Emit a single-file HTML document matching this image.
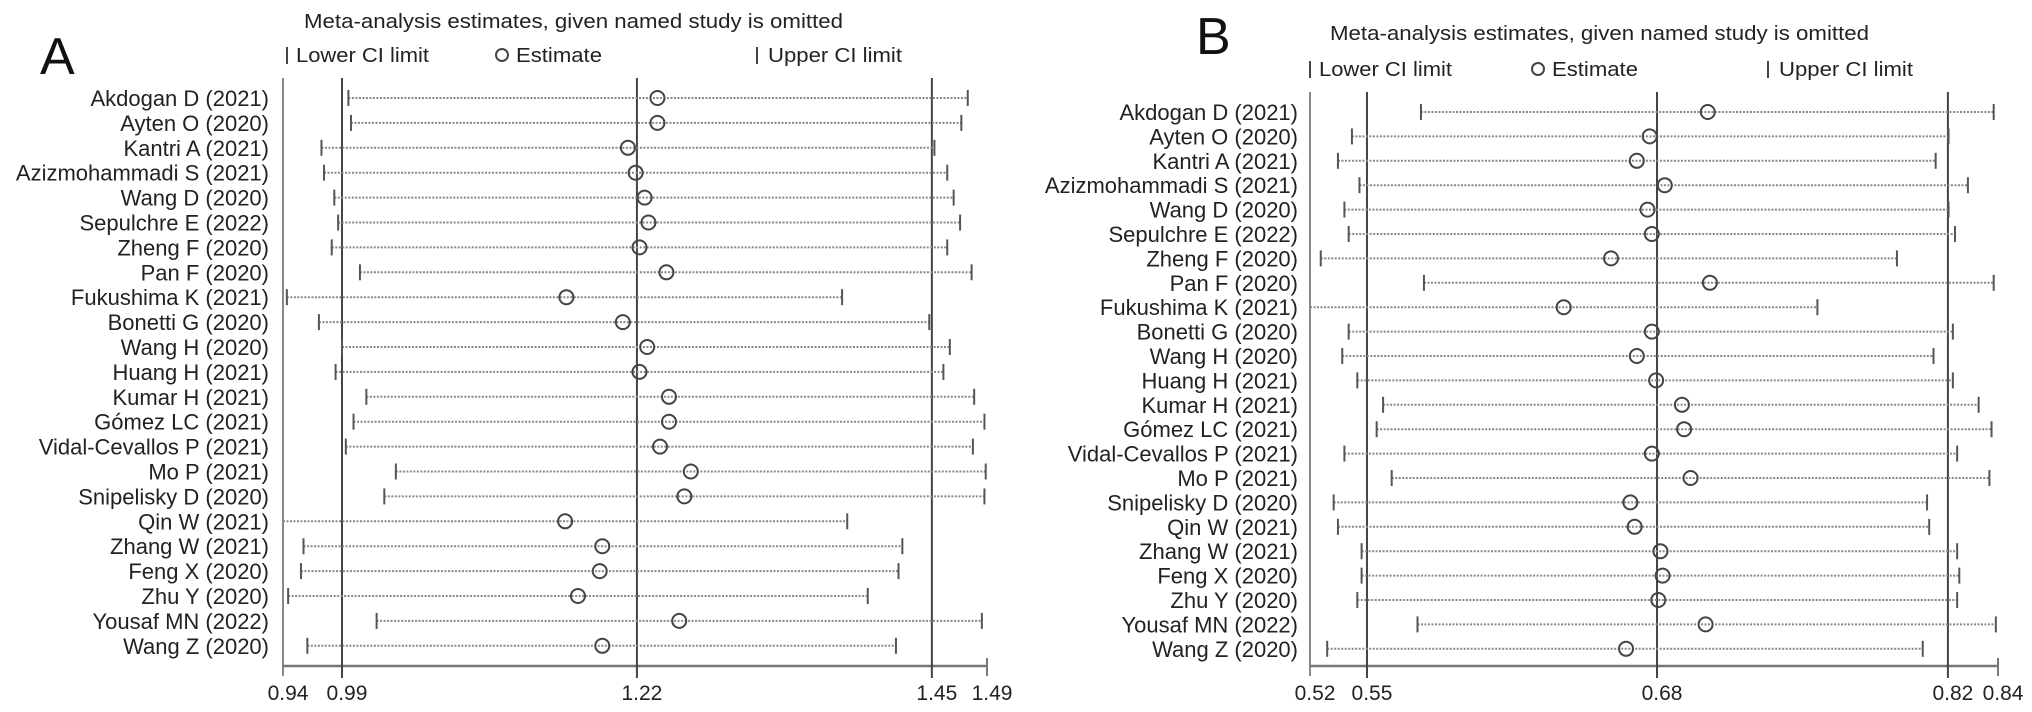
<!DOCTYPE html>
<html><head><meta charset="utf-8"><style>
html,body{margin:0;padding:0;background:#fff;}
svg{display:block;font-family:"Liberation Sans",Arial,sans-serif;}
</style></head><body>
<svg id="chart" width="2032" height="712" viewBox="0 0 2032 712" xmlns="http://www.w3.org/2000/svg">
<rect width="2032" height="712" fill="#fff"/>
</svg>
<script>
const studies = ["Akdogan D (2021)","Ayten O (2020)","Kantri A (2021)","Azizmohammadi S (2021)","Wang D (2020)","Sepulchre E (2022)","Zheng F (2020)","Pan F (2020)","Fukushima K (2021)","Bonetti G (2020)","Wang H (2020)","Huang H (2021)","Kumar H (2021)","Gómez LC (2021)","Vidal-Cevallos P (2021)","Mo P (2021)","Snipelisky D (2020)","Qin W (2021)","Zhang W (2021)","Feng X (2020)","Zhu Y (2020)","Yousaf MN (2022)","Wang Z (2020)"];

const lowerA = [0.995,0.997,0.974,0.976,0.984,0.987,0.982,1.004,0.947,0.972,0.990,0.985,1.009,0.999,0.993,1.032,1.023,0.930,0.960,0.958,0.948,1.017,0.963];
const estA   = [1.236,1.236,1.213,1.219,1.226,1.229,1.222,1.243,1.165,1.209,1.228,1.222,1.245,1.245,1.238,1.262,1.257,1.164,1.193,1.191,1.174,1.253,1.193];
const upperA = [1.478,1.473,1.452,1.462,1.467,1.472,1.462,1.481,1.380,1.448,1.464,1.459,1.483,1.491,1.482,1.492,1.491,1.384,1.427,1.424,1.400,1.489,1.422];
const refA = [0.99,1.22,1.45];
const tickValsA = [0.944,0.99,1.22,1.45,1.493];
const tickLabelsA = ["0.94","0.99","1.22","1.45","1.49"];

const lowerB = [0.5716,0.5395,0.533,0.543,0.536,0.538,0.525,0.573,0.515,0.538,0.535,0.542,0.554,0.551,0.536,0.558,0.531,0.533,0.544,0.544,0.542,0.570,0.528];
const estB   = [0.705,0.678,0.672,0.685,0.677,0.679,0.660,0.706,0.638,0.679,0.672,0.681,0.693,0.694,0.679,0.697,0.669,0.671,0.683,0.684,0.682,0.704,0.667];
const upperB = [0.838,0.817,0.811,0.826,0.817,0.820,0.793,0.838,0.756,0.819,0.810,0.819,0.831,0.837,0.821,0.836,0.807,0.808,0.821,0.822,0.821,0.839,0.805];
const refB = [0.5465,0.6814,0.8167];
const tickValsB = [0.52,0.5465,0.6814,0.8167,0.84];
const tickLabelsB = ["0.52","0.55","0.68","0.82","0.84"];

const NS="http://www.w3.org/2000/svg";
const svg=document.getElementById('chart');
function mk(tag,attrs,parent){const e=document.createElementNS(NS,tag);for(const k in attrs)e.setAttribute(k,attrs[k]);(parent||svg).appendChild(e);return e;}

function panel(cfg){
  const g=mk('g',{});
  
  
  const x=v=>cfg.x0+(v-cfg.d0)/(cfg.d1-cfg.d0)*(cfg.x1-cfg.x0);
  const y=i=>cfg.row0+i*cfg.rowStep;
  const pl=mk('text',{x:cfg.letterX,y:cfg.letterY,'font-size':52,fill:'#111'},g);pl.textContent=cfg.id.toUpperCase();
  
  
  const t=mk('text',{x:cfg.titleX,y:cfg.titleY,'font-size':20,fill:'#222',textLength:539,lengthAdjust:'spacingAndGlyphs'},g);
  t.textContent='Meta-analysis estimates, given named study is omitted';
  
  
  const lg=mk('g',{},g);
  
  
  const ly=cfg.legendY;
  mk('line',{x1:cfg.legL,x2:cfg.legL,y1:ly-15,y2:ly+2,stroke:'#444','stroke-width':2},lg);
  const l1=mk('text',{x:cfg.legL+9,y:ly,'font-size':20,fill:'#222',textLength:133,lengthAdjust:'spacingAndGlyphs'},lg);l1.textContent='Lower CI limit';
  
  
  mk('circle',{cx:cfg.legE,cy:ly-7,r:6,fill:'none',stroke:'#444','stroke-width':2},lg);
  const l2=mk('text',{x:cfg.legE+14,y:ly,'font-size':20,fill:'#222',textLength:86,lengthAdjust:'spacingAndGlyphs'},lg);l2.textContent='Estimate';
  
  
  mk('line',{x1:cfg.legU,x2:cfg.legU,y1:ly-15,y2:ly+2,stroke:'#444','stroke-width':2},lg);
  const l3=mk('text',{x:cfg.legU+11,y:ly,'font-size':20,fill:'#222',textLength:134,lengthAdjust:'spacingAndGlyphs'},lg);l3.textContent='Upper CI limit';
  
  
  mk('line',{x1:cfg.x0,x2:cfg.x0,y1:cfg.top,y2:cfg.axisY+10,stroke:'#888','stroke-width':2},g);
  mk('line',{x1:cfg.x0,x2:cfg.x1,y1:cfg.axisY,y2:cfg.axisY,stroke:'#777','stroke-width':2.5},g);
  mk('line',{x1:cfg.x1,x2:cfg.x1,y1:cfg.axisY-8,y2:cfg.axisY+10,stroke:'#777','stroke-width':2},g);
  cfg.ref.forEach(v=>{
    const r=mk('line',{x1:x(v),x2:x(v),y1:cfg.top,y2:cfg.axisY+12,stroke:'#444','stroke-width':2},g);
    
    
  });
  cfg.tickVals.forEach((v,i)=>{
    const tl=mk('text',{x:x(v)+5,y:cfg.axisY+34,'font-size':21,fill:'#222','text-anchor':'middle'},g);
    tl.textContent=cfg.tickLabels[i];
    
    
  });
  studies.forEach((s,i)=>{
    const yy=y(i);
    const rg=mk('g',{},g);
    
    
    const lab=mk('text',{x:cfg.labelX,y:yy+8,'font-size':22,fill:'#222','text-anchor':'end'},rg);
    lab.textContent=s;
    
    
    const lo=Math.max(cfg.lower[i],cfg.d0);
    const ci=mk('line',{x1:x(lo),x2:x(cfg.upper[i]),y1:yy,y2:yy,stroke:'#888','stroke-width':2,'stroke-dasharray':'2,1.5'},rg);
    
    
    if(cfg.lower[i]>=cfg.d0){
      const lt=mk('line',{x1:x(cfg.lower[i]),x2:x(cfg.lower[i]),y1:yy-8,y2:yy+8,stroke:'#555','stroke-width':2},rg);
      
      
    }
    const ut=mk('line',{x1:x(cfg.upper[i]),x2:x(cfg.upper[i]),y1:yy-8,y2:yy+8,stroke:'#555','stroke-width':2},rg);
    
    
    const c=mk('circle',{cx:x(cfg.est[i]),cy:yy,r:7,fill:'none',stroke:'#444','stroke-width':2},rg);
    
    
  });
}

panel({id:'a',x0:283,x1:987,d0:0.944,d1:1.493,row0:98,rowStep:24.9,axisY:666,top:78,
  lower:lowerA,est:estA,upper:upperA,ref:refA,tickVals:tickValsA,tickLabels:tickLabelsA,
  labelX:269,letterX:40,letterY:74,titleX:304,titleY:28,legendY:62,legL:287,legE:502,legU:757});
panel({id:'b',x0:1310,x1:1998,d0:0.52,d1:0.84,row0:112,rowStep:24.4,axisY:666,top:92,
  lower:lowerB,est:estB,upper:upperB,ref:refB,tickVals:tickValsB,tickLabels:tickLabelsB,
  labelX:1298,letterX:1196,letterY:54,titleX:1330,titleY:40,legendY:76,legL:1310,legE:1538,legU:1768});
</script>
</body></html>
